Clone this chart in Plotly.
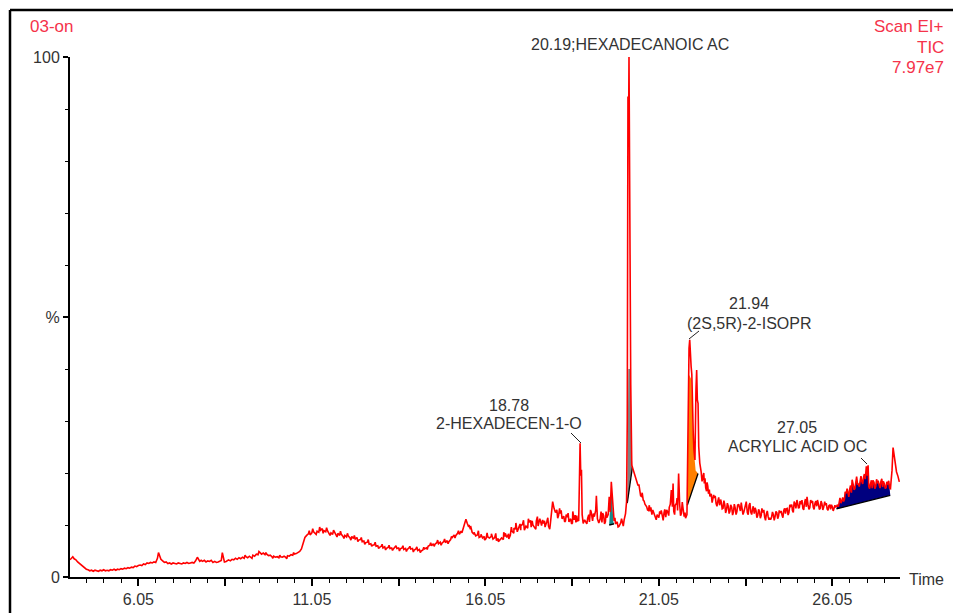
import plotly.graph_objects as go

# ---------------- data ----------------
time_min = [
    4.08, 4.12, 4.16, 4.20, 4.25, 4.30, 4.35, 4.40, 4.45, 4.50, 4.55, 4.60, 4.65, 4.70, 4.75, 4.80,
    4.85, 4.90, 4.95, 5.00, 5.05, 5.10, 5.15, 5.20, 5.25, 5.30, 5.35, 5.40, 5.45, 5.50, 5.55, 5.60,
    5.65, 5.70, 5.75, 5.80, 5.85, 5.90, 5.95, 6.00, 6.05, 6.10, 6.15, 6.20, 6.25, 6.30, 6.35, 6.40,
    6.45, 6.50, 6.55, 6.60, 6.63, 6.66, 6.70, 6.75, 6.80, 6.85, 6.90, 6.95, 7.00, 7.05, 7.10, 7.15,
    7.20, 7.25, 7.30, 7.35, 7.40, 7.45, 7.50, 7.55, 7.60, 7.65, 7.70, 7.75, 7.78, 7.82, 7.86, 7.90,
    7.95, 8.00, 8.05, 8.10, 8.15, 8.20, 8.25, 8.30, 8.35, 8.40, 8.44, 8.47, 8.50, 8.53, 8.58, 8.65,
    8.70, 8.75, 8.80, 8.85, 8.90, 8.95, 9.00, 9.05, 9.10, 9.15, 9.20, 9.25, 9.30, 9.35, 9.40, 9.45,
    9.50, 9.55, 9.60, 9.65, 9.70, 9.75, 9.80, 9.85, 9.90, 9.95, 10.00, 10.05, 10.10, 10.15, 10.20,
    10.25, 10.30, 10.35, 10.40, 10.45, 10.50, 10.55, 10.60, 10.65, 10.70, 10.75, 10.80, 10.85, 10.90,
    10.95, 11.00, 11.05, 11.10, 11.15, 11.20, 11.25, 11.30, 11.35, 11.40, 11.45, 11.50, 11.55, 11.60,
    11.65, 11.70, 11.75, 11.80, 11.85, 11.90, 11.95, 12.00, 12.05, 12.10, 12.15, 12.20, 12.25, 12.30,
    12.35, 12.40, 12.45, 12.50, 12.55, 12.60, 12.65, 12.70, 12.75, 12.80, 12.85, 12.90, 12.95, 13.00,
    13.05, 13.10, 13.15, 13.20, 13.25, 13.30, 13.35, 13.40, 13.45, 13.50, 13.55, 13.60, 13.65, 13.70,
    13.75, 13.80, 13.85, 13.90, 13.95, 14.00, 14.05, 14.10, 14.15, 14.20, 14.25, 14.30, 14.35, 14.40,
    14.45, 14.50, 14.55, 14.60, 14.65, 14.70, 14.75, 14.80, 14.85, 14.90, 14.95, 15.00, 15.05, 15.10,
    15.15, 15.20, 15.25, 15.30, 15.35, 15.40, 15.45, 15.49, 15.53, 15.57, 15.62, 15.67, 15.72, 15.77,
    15.82, 15.87, 15.92, 15.97, 16.02, 16.07, 16.12, 16.17, 16.22, 16.27, 16.32, 16.37, 16.42, 16.47,
    16.52, 16.57, 16.62, 16.67, 16.72, 16.77, 16.82, 16.87, 16.92, 16.97, 17.02, 17.07, 17.12, 17.17,
    17.22, 17.27, 17.32, 17.37, 17.42, 17.47, 17.52, 17.57, 17.62, 17.67, 17.72, 17.77, 17.82, 17.87,
    17.92, 17.96, 17.99, 18.03, 18.07, 18.11, 18.16, 18.21, 18.26, 18.31, 18.36, 18.41, 18.46, 18.51,
    18.56, 18.61, 18.66, 18.70, 18.74, 18.76, 18.78, 18.80, 18.82, 18.84, 18.87, 18.91, 18.95, 19.00,
    19.05, 19.10, 19.14, 19.19, 19.23, 19.25, 19.28, 19.32, 19.36, 19.41, 19.46, 19.51, 19.55, 19.59,
    19.62, 19.65, 19.68, 19.70, 19.73, 19.76, 19.80, 19.85, 19.90, 19.95, 20.00, 20.05, 20.09, 20.12,
    20.14, 20.16, 20.18, 20.19, 20.21, 20.22, 20.24, 20.27, 20.31, 20.35, 20.40, 20.45, 20.50, 20.55,
    20.60, 20.65, 20.70, 20.75, 20.80, 20.85, 20.90, 20.95, 21.00, 21.05, 21.10, 21.15, 21.20, 21.25,
    21.30, 21.35, 21.38, 21.41, 21.44, 21.48, 21.52, 21.56, 21.59, 21.62, 21.65, 21.70, 21.74, 21.78,
    21.82, 21.86, 21.89, 21.92, 21.94, 21.96, 21.98, 22.00, 22.02, 22.04, 22.06, 22.09, 22.12, 22.14,
    22.16, 22.18, 22.20, 22.23, 22.27, 22.32, 22.36, 22.40, 22.44, 22.48, 22.52, 22.56, 22.60, 22.65,
    22.70, 22.75, 22.80, 22.85, 22.90, 22.95, 23.00, 23.05, 23.10, 23.15, 23.20, 23.25, 23.30, 23.35,
    23.40, 23.45, 23.50, 23.55, 23.60, 23.65, 23.70, 23.75, 23.80, 23.85, 23.90, 23.95, 24.00, 24.05,
    24.10, 24.15, 24.20, 24.25, 24.30, 24.35, 24.40, 24.45, 24.50, 24.55, 24.60, 24.65, 24.70, 24.75,
    24.80, 24.85, 24.90, 24.95, 25.00, 25.05, 25.10, 25.15, 25.20, 25.25, 25.30, 25.35, 25.40, 25.45,
    25.50, 25.55, 25.60, 25.65, 25.70, 25.75, 25.80, 25.85, 25.90, 25.95, 26.00, 26.05, 26.10, 26.15,
    26.20, 26.25, 26.30, 26.35, 26.40, 26.45, 26.50, 26.55, 26.60, 26.65, 26.70, 26.75, 26.80, 26.85,
    26.90, 26.95, 27.00, 27.03, 27.06, 27.10, 27.15, 27.20, 27.25, 27.30, 27.35, 27.40, 27.45, 27.50,
    27.55, 27.60, 27.65, 27.70, 27.74, 27.77, 27.80, 27.83, 27.86, 27.90, 27.94, 27.98,
]
tic_pct = [
    3.3, 3.6, 3.9, 3.5, 3.3, 2.9, 2.6, 2.3, 2.0, 1.8, 1.5, 1.4, 1.2, 1.3, 1.1, 1.3,
    1.2, 1.1, 1.3, 1.2, 1.4, 1.2, 1.3, 1.2, 1.4, 1.3, 1.5, 1.3, 1.5, 1.4, 1.6, 1.5,
    1.7, 1.6, 1.8, 1.7, 1.9, 1.8, 2.1, 2.0, 2.2, 2.3, 2.2, 2.5, 2.4, 2.7, 2.6, 2.8,
    2.7, 2.9, 2.8, 3.6, 4.7, 3.9, 3.4, 3.1, 2.8, 2.9, 2.6, 2.7, 2.5, 2.7, 2.6, 2.5,
    2.7, 2.6, 2.5, 2.7, 2.6, 2.8, 2.6, 2.7, 2.8, 2.7, 3.1, 3.8, 3.4, 3.0, 3.2, 3.0,
    3.2, 2.9, 3.1, 3.0, 3.2, 2.8, 3.0, 2.8, 2.9, 3.0, 3.2, 4.7, 3.4, 2.9, 3.0, 3.3,
    3.1, 3.4, 3.3, 3.6, 3.4, 3.7, 3.5, 3.8, 3.6, 3.9, 3.7, 4.0, 3.8, 4.2, 4.0, 4.4,
    4.3, 4.7, 4.4, 4.6, 4.3, 4.4, 4.1, 4.2, 3.9, 4.0, 3.8, 3.9, 3.7, 3.9, 3.8,
    4.0, 3.8, 4.1, 4.0, 4.3, 4.2, 4.4, 4.5, 4.7, 4.9, 5.4, 6.5, 7.6, 8.0,
    8.3, 8.1, 8.5, 8.7, 8.4, 8.8, 8.6, 9.0, 9.3, 8.9, 8.7, 8.9, 8.3, 8.5,
    8.2, 8.6, 8.1, 8.4, 8.0, 8.2, 7.8, 8.0, 7.7, 7.9, 7.5, 7.8, 7.4, 7.3,
    7.6, 7.1, 7.2, 6.8, 6.9, 6.6, 6.7, 6.3, 6.4, 6.1, 6.2, 5.9, 6.0, 5.7,
    5.9, 5.6, 5.8, 5.5, 5.7, 5.5, 5.6, 5.4, 5.7, 5.5, 5.6, 5.4, 5.6, 5.3,
    5.5, 5.3, 5.6, 5.4, 5.5, 5.2, 5.4, 5.1, 5.3, 5.0, 5.2, 5.4, 5.6, 5.9,
    6.1, 6.0, 6.4, 6.3, 6.6, 6.4, 6.7, 6.5, 6.8, 6.6, 7.0, 6.8, 7.2, 7.6,
    8.1, 8.0, 8.4, 8.2, 8.8, 9.0, 10.2, 11.1, 10.3, 9.6, 9.2, 8.6, 8.2, 7.9,
    8.1, 7.6, 7.8, 7.5, 7.8, 7.4, 7.7, 7.5, 7.8, 7.3, 7.6, 7.0, 7.4, 7.1,
    7.5, 7.2, 7.8, 7.6, 8.3, 8.0, 8.8, 8.4, 9.2, 8.7, 9.5, 9.0, 10.1, 9.3,
    9.8, 9.4, 10.5, 9.6, 10.0, 9.5, 10.8, 9.8, 11.2, 9.9, 10.3, 9.6, 10.6, 9.8,
    10.0, 12.0, 14.5, 13.2, 12.4, 12.9, 11.8, 12.2, 11.2, 11.7, 10.8, 11.5, 10.6, 11.2,
    10.4, 11.0, 10.5, 10.8, 10.9, 18.0, 25.7, 19.5, 20.6, 12.0, 10.3, 11.0, 10.4, 11.3,
    10.6, 12.5, 10.8, 11.6, 12.8, 15.6, 11.2, 10.4, 11.2, 10.5, 11.8, 10.6, 11.4, 12.0,
    15.4, 12.5, 18.3, 16.0, 13.0, 10.8, 10.2, 10.6, 9.7, 10.4, 10.2, 11.0, 12.2, 14.5,
    30.0, 92.4, 88.0, 100.0, 70.0, 40.0, 37.0, 21.5, 20.6, 19.5, 18.6, 17.6, 16.8, 15.5,
    14.8, 14.0, 13.5, 12.8, 12.6, 12.0, 12.3, 11.6, 12.0, 11.4, 12.1, 11.3, 12.4, 11.5,
    12.6, 13.4, 14.0, 16.7, 13.5, 12.6, 13.8, 14.2, 12.8, 19.9, 14.0, 12.2, 13.6, 11.6,
    11.3, 12.0, 30.0, 44.0, 45.6, 41.7, 40.5, 39.0, 30.0, 28.0, 24.5, 22.5, 36.0, 39.8,
    34.0, 33.4, 25.0, 21.9, 20.2, 19.3, 18.0, 17.2, 18.2, 16.0, 15.5, 16.0, 14.8, 15.2,
    14.1, 14.6, 13.8, 14.4, 13.2, 13.9, 12.9, 13.6, 12.7, 13.4, 12.5, 13.3, 12.6, 14.0,
    12.7, 13.2, 12.5, 13.6, 12.4, 13.8, 12.5, 13.0, 12.2, 12.8, 11.8, 12.6, 11.8, 12.4,
    11.5, 12.2, 11.6, 11.4, 11.5, 12.0, 11.6, 12.4, 11.7, 12.3, 11.9, 12.8, 12.2, 13.2,
    12.4, 13.6, 12.8, 14.5, 13.2, 14.2, 13.4, 14.0, 13.2, 14.3, 13.5, 13.9, 13.3, 14.4,
    13.4, 14.2, 13.6, 14.0, 13.2, 14.1, 13.4, 13.8, 13.1, 13.7, 13.0, 13.5, 13.2, 13.4,
    13.9, 14.6, 14.2, 15.3, 15.0, 16.1, 15.6, 16.9, 16.2, 17.8, 17.0, 19.3, 18.0, 19.0,
    18.4, 19.2, 18.8, 21.3, 19.5, 17.4, 17.9, 17.1, 18.2, 17.4, 18.0, 17.7, 18.4, 17.3,
    17.9, 17.2, 17.8, 17.1, 18.2, 20.5, 24.9, 23.5, 21.9, 20.2, 19.4, 18.3,
]

# narrow noise spikes / dips read from the noisy stretch 15.5 - 27.7 min
spike_t = [
    15.58, 15.85, 16.10, 16.35, 16.58, 16.80, 16.93, 17.05, 17.15, 17.29, 17.40, 17.55, 17.70,
    17.85, 18.19, 18.38, 18.57, 18.64, 19.03, 19.08, 19.43, 19.53, 20.57, 20.82, 21.12, 21.22,
    21.46, 22.38, 22.46, 22.63, 22.83, 23.12, 23.32, 23.57, 23.77, 24.02, 24.27, 24.52, 24.72,
    24.88, 25.03, 25.12, 25.32, 25.48, 25.62, 25.83, 25.98, 26.27, 26.42, 26.62, 26.78, 27.08,
    27.22, 27.37, 27.52, 27.62,
]
spike_pct = [
    10.0, 8.9, 8.5, 8.4, 8.6, 9.6, 10.4, 10.2, 10.9, 11.2, 10.8, 11.6, 11.0,
    11.4, 13.2, 12.0, 12.6, 11.9, 12.0, 12.9, 12.3, 12.6, 16.2, 13.4, 12.8, 13.0,
    18.0, 19.0, 17.5, 15.8, 14.9, 13.9, 13.8, 14.5, 13.6, 13.2, 11.0, 12.8, 13.1,
    13.9, 14.8, 14.6, 15.4, 14.6, 14.8, 14.5, 13.9, 15.2, 16.4, 18.7, 17.7, 21.5,
    18.6, 18.5, 18.4, 18.3,
]

# fine-scale jitter of the trace (hand-read texture of the noisy baseline)
jitter_t = [
    9.125, 9.325, 9.525, 9.725, 9.925, 10.125, 10.325, 10.525,
    10.975, 11.075, 11.175, 11.275, 11.375, 11.475, 11.575, 11.675, 11.775, 11.875, 11.975,
    12.075, 12.175, 12.275, 12.375, 12.475, 12.575, 12.675, 12.775, 12.875, 12.975, 13.075,
    13.175, 13.275, 13.375, 13.475, 13.575, 13.675, 13.775, 13.875, 13.975, 14.075, 14.175,
    14.275, 14.375, 14.475, 14.575, 14.675, 14.775, 14.875, 14.975, 15.075, 15.175, 15.275,
    15.375, 15.625, 15.725, 15.925, 16.025, 16.225, 16.425, 16.625, 16.725, 16.875, 17.075,
    17.175, 17.355, 17.505, 17.645, 17.755, 17.905, 18.135, 18.235, 18.335, 18.435, 18.535,
    18.685, 18.975, 19.165, 19.385, 19.485, 19.785, 19.875, 19.975, 20.025, 20.375, 20.475,
    20.525, 20.625, 20.725, 20.775, 20.875, 20.975, 21.075, 21.175, 21.275, 21.335, 21.505,
    21.575, 21.675, 21.725, 21.805, 22.295, 22.345, 22.425, 22.505, 22.585, 22.675, 22.725,
    22.775, 22.875, 22.925, 22.975, 23.025, 23.075, 23.175, 23.225, 23.275, 23.375, 23.425,
    23.475, 23.525, 23.625, 23.675, 23.725, 23.825, 23.875, 23.925, 23.975, 24.075, 24.125,
    24.175, 24.225, 24.325, 24.375, 24.425, 24.475, 24.575, 24.625, 24.675, 24.775, 24.825,
    24.925, 24.975, 25.075, 25.175, 25.225, 25.275, 25.375, 25.425, 25.525, 25.575, 25.675,
    25.725, 25.775, 25.875, 25.925, 26.025, 26.075, 26.125, 26.225, 26.325, 26.375, 26.475,
    26.525, 26.575, 26.675, 26.725, 26.825, 26.875, 26.925, 26.975, 27.125, 27.175, 27.275,
    27.325, 27.425, 27.475, 27.575, 27.675, 27.725,
]
jitter_pct = [
    4.2, 3.6, 4.9, 4.7, 3.6, 4.2, 3.5, 4.7,
    8.9, 9.3, 8.2, 9.6, 8.4, 9.5, 8.0, 9.0, 7.7, 8.8, 7.4,
    8.4, 7.1, 8.0, 6.8, 7.6, 6.3, 7.2, 5.9, 6.7, 5.5, 6.3,
    5.2, 6.1, 5.1, 6.0, 5.0, 6.0, 4.9, 5.9, 4.8, 5.8, 4.7,
    5.7, 5.3, 6.6, 5.9, 7.1, 6.1, 7.3, 6.4, 7.8, 7.5, 8.9,
    8.5, 9.8, 8.6, 8.2, 7.1, 8.3, 6.8, 8.4, 7.3, 9.4, 9.9,
    9.0, 10.9, 9.2, 10.6, 10.8, 9.2, 11.3, 12.8, 10.6, 12.3, 10.2,
    11.8, 10.2, 12.2, 12.6, 10.2, 11.4, 9.6, 11.2, 9.8, 18.9, 17.8,
    15.6, 14.6, 12.9, 13.8, 12.9, 11.0, 12.6, 10.9, 12.9, 11.8, 12.0,
    15.2, 11.8, 14.4, 12.4, 18.4, 20.0, 16.5, 16.8, 14.3, 15.6, 13.6,
    15.3, 13.1, 14.7, 12.3, 14.2, 12.2, 11.9, 14.0, 12.0, 13.0, 14.3,
    12.0, 13.2, 12.0, 14.2, 12.0, 13.3, 11.4, 13.0, 11.3, 12.9, 10.9,
    12.7, 11.0, 12.5, 10.9, 12.6, 11.2, 12.7, 11.4, 13.2, 11.9, 13.9,
    12.4, 14.1, 13.2, 14.8, 12.9, 15.0, 13.0, 14.8, 13.0, 14.6, 13.0,
    14.6, 12.9, 14.2, 12.8, 13.9, 12.7, 13.8, 13.5, 15.0, 14.5, 17.0,
    15.4, 17.6, 16.8, 18.7, 17.4, 19.4, 17.9, 19.8, 17.0, 18.6, 17.0,
    18.8, 17.1, 18.9, 17.0, 18.5, 17.0,
]

# integrated peak areas (top outline + baseline end points)
teal_t = [19.62, 19.64, 19.66, 19.68, 19.70, 19.72, 19.74]
teal_top = [10.3, 12.5, 15.0, 17.5, 15.5, 12.5, 10.6]
teal_base_t = [19.62, 19.76]
teal_base_y = [10.0, 10.2]

grey_t = [20.14, 20.15, 20.17, 20.22, 20.24, 20.26, 20.29]
grey_top = [14.2, 30.0, 40.0, 40.0, 36.0, 24.0, 21.2]
grey_base_t = [20.14, 20.29]
grey_base_y = [14.2, 21.2]

orange_t = [21.87, 21.89, 21.91, 21.99, 22.01, 22.03, 22.05, 22.07, 22.09, 22.11]
orange_top = [13.8, 28.0, 39.0, 38.0, 30.0, 28.0, 25.0, 23.0, 21.5, 20.5]
orange_base_t = [21.87, 22.18]
orange_base_y = [13.8, 19.9]

navy_base_t = [26.17, 27.72]
navy_base_y = [13.1, 15.7]

peak_labels = [
    ("20.19;HEXADECANOIC AC", 630, 44),
    ("18.78", 509, 405),
    ("2-HEXADECEN-1-O", 509, 424),
    ("21.94", 749, 303),
    ("(2S,5R)-2-ISOPR", 749, 323),
    ("27.05", 797, 427),
    ("ACRYLIC ACID OC", 797, 446),
]

x_tick_vals = [6.05, 8.55, 11.05, 13.55, 16.05, 18.55, 21.05, 23.55, 26.05]
x_tick_text = ["6.05", "", "11.05", "", "16.05", "", "21.05", "", "26.05"]

# ---------------- merge the trace ----------------
merged = sorted(zip(time_min + spike_t + jitter_t, tic_pct + spike_pct + jitter_pct))
trace_t = [p[0] for p in merged]
trace_y = [p[1] for p in merged]

# ---------------- layout geometry (screen pixels) ----------------
OFF = 8                       # page body margin
W, H = 961 - OFF, 613 - OFF   # figure size
PLOT_L, PLOT_T, PLOT_W, PLOT_H = 70, 57, 830, 520   # plot area on screen
L, T = PLOT_L - OFF, PLOT_T - OFF
R, B = W - L - PLOT_W, H - T - PLOT_H


def px(xs):
    return (xs - PLOT_L) / PLOT_W


def py(ys):
    return (PLOT_T + PLOT_H - ys) / PLOT_H


FONT = "Liberation Sans, Arial, sans-serif"
RED_TXT = "#f5334a"
TXT = "#333333"

fig = go.Figure()


def add_area(ts, tops, bt, by, color):
    xs = list(ts) + [bt[1], bt[0]]
    ys = list(tops) + [by[1], by[0]]
    fig.add_trace(go.Scatter(x=xs, y=ys, fill="toself", fillcolor=color,
                             line=dict(width=0), mode="lines", hoverinfo="skip"))


add_area(teal_t, teal_top, teal_base_t, teal_base_y, "#178a8a")
add_area(grey_t, grey_top, grey_base_t, grey_base_y, "#808080")
add_area(orange_t, orange_top, orange_base_t, orange_base_y, "#ff8000")
nav_pts = [(t, v) for t, v in merged if navy_base_t[0] <= t <= navy_base_t[1]]
add_area([p[0] for p in nav_pts], [p[1] for p in nav_pts], navy_base_t, navy_base_y, "#00007f")

for bt, by in [(teal_base_t, teal_base_y), (grey_base_t, grey_base_y),
               (orange_base_t, orange_base_y), (navy_base_t, navy_base_y)]:
    fig.add_trace(go.Scatter(x=bt, y=by, mode="lines",
                             line=dict(color="black", width=1.3), hoverinfo="skip"))

fig.add_trace(go.Scatter(x=trace_t, y=trace_y, mode="lines",
                         line=dict(color="#ff0000", width=1.6)))

annotations = []
for text, xs, ys in peak_labels:
    annotations.append(dict(text=text, x=px(xs), y=py(ys), xref="paper", yref="paper",
                            showarrow=False, xanchor="center", yanchor="middle",
                            font=dict(family=FONT, size=16, color=TXT)))
header = [
    dict(text="03-on", x=px(28), y=py(27), xanchor="left"),
    dict(text="Scan EI+", x=px(946), y=py(27), xanchor="right"),
    dict(text="TIC", x=px(946), y=py(47), xanchor="right"),
    dict(text="7.97e7", x=px(946), y=py(67), xanchor="right"),
]
for a in header:
    a.update(xref="paper", yref="paper", showarrow=False, yanchor="middle",
             font=dict(family=FONT, size=17, color=RED_TXT))
annotations += header
annotations.append(dict(text="Time", x=px(907), y=py(579), xref="paper", yref="paper",
                        showarrow=False, xanchor="left", yanchor="middle",
                        font=dict(family=FONT, size=16, color=TXT)))

leaders = [((571, 433), (581, 443)), ((689, 339), (699, 331)), ((861, 458), (867, 464))]
shapes = []
for (x0, y0), (x1, y1) in leaders:
    shapes.append(dict(type="line", xref="paper", yref="paper",
                       x0=px(x0), y0=py(y0), x1=px(x1), y1=py(y1),
                       line=dict(color="#222222", width=1)))
# outer frame (top and left edges)
shapes.append(dict(type="line", xref="paper", yref="paper", x0=px(10), y0=py(10),
                   x1=px(965), y1=py(10), line=dict(color="black", width=2.5)))
shapes.append(dict(type="line", xref="paper", yref="paper", x0=px(10), y0=py(10),
                   x1=px(10), y1=py(620), line=dict(color="black", width=2.5)))

fig.update_layout(
    width=W, height=H,
    margin=dict(l=L, r=R, t=T, b=B, pad=0, autoexpand=False),
    paper_bgcolor="white", plot_bgcolor="white",
    showlegend=False,
    font=dict(family=FONT, size=16, color=TXT),
    annotations=annotations,
    shapes=shapes,
    xaxis=dict(
        range=[4.08, 28.0], showgrid=False, zeroline=False, automargin=False,
        showline=True, linecolor="black", linewidth=2,
        tickmode="array", tickvals=x_tick_vals, ticktext=x_tick_text,
        ticks="outside", ticklen=7, tickwidth=1.5, tickcolor="black",
        tickfont=dict(family=FONT, size=16, color=TXT),
        minor=dict(tickmode="linear", tick0=6.05, dtick=0.5, ticks="outside",
                   ticklen=4, tickwidth=1, tickcolor="black", showgrid=False),
    ),
    yaxis=dict(
        range=[0, 100], showgrid=False, zeroline=False, automargin=False,
        showline=True, linecolor="black", linewidth=2,
        tickmode="array", tickvals=[0, 50, 100], ticktext=["0", "%", "100"],
        ticks="outside", ticklen=5, tickwidth=1.5, tickcolor="black",
        tickfont=dict(family=FONT, size=16, color=TXT),
        minor=dict(tickmode="linear", tick0=0, dtick=10, ticks="outside",
                   ticklen=3, tickwidth=1, tickcolor="black", showgrid=False),
    ),
)

fig.write_html("out.html")
